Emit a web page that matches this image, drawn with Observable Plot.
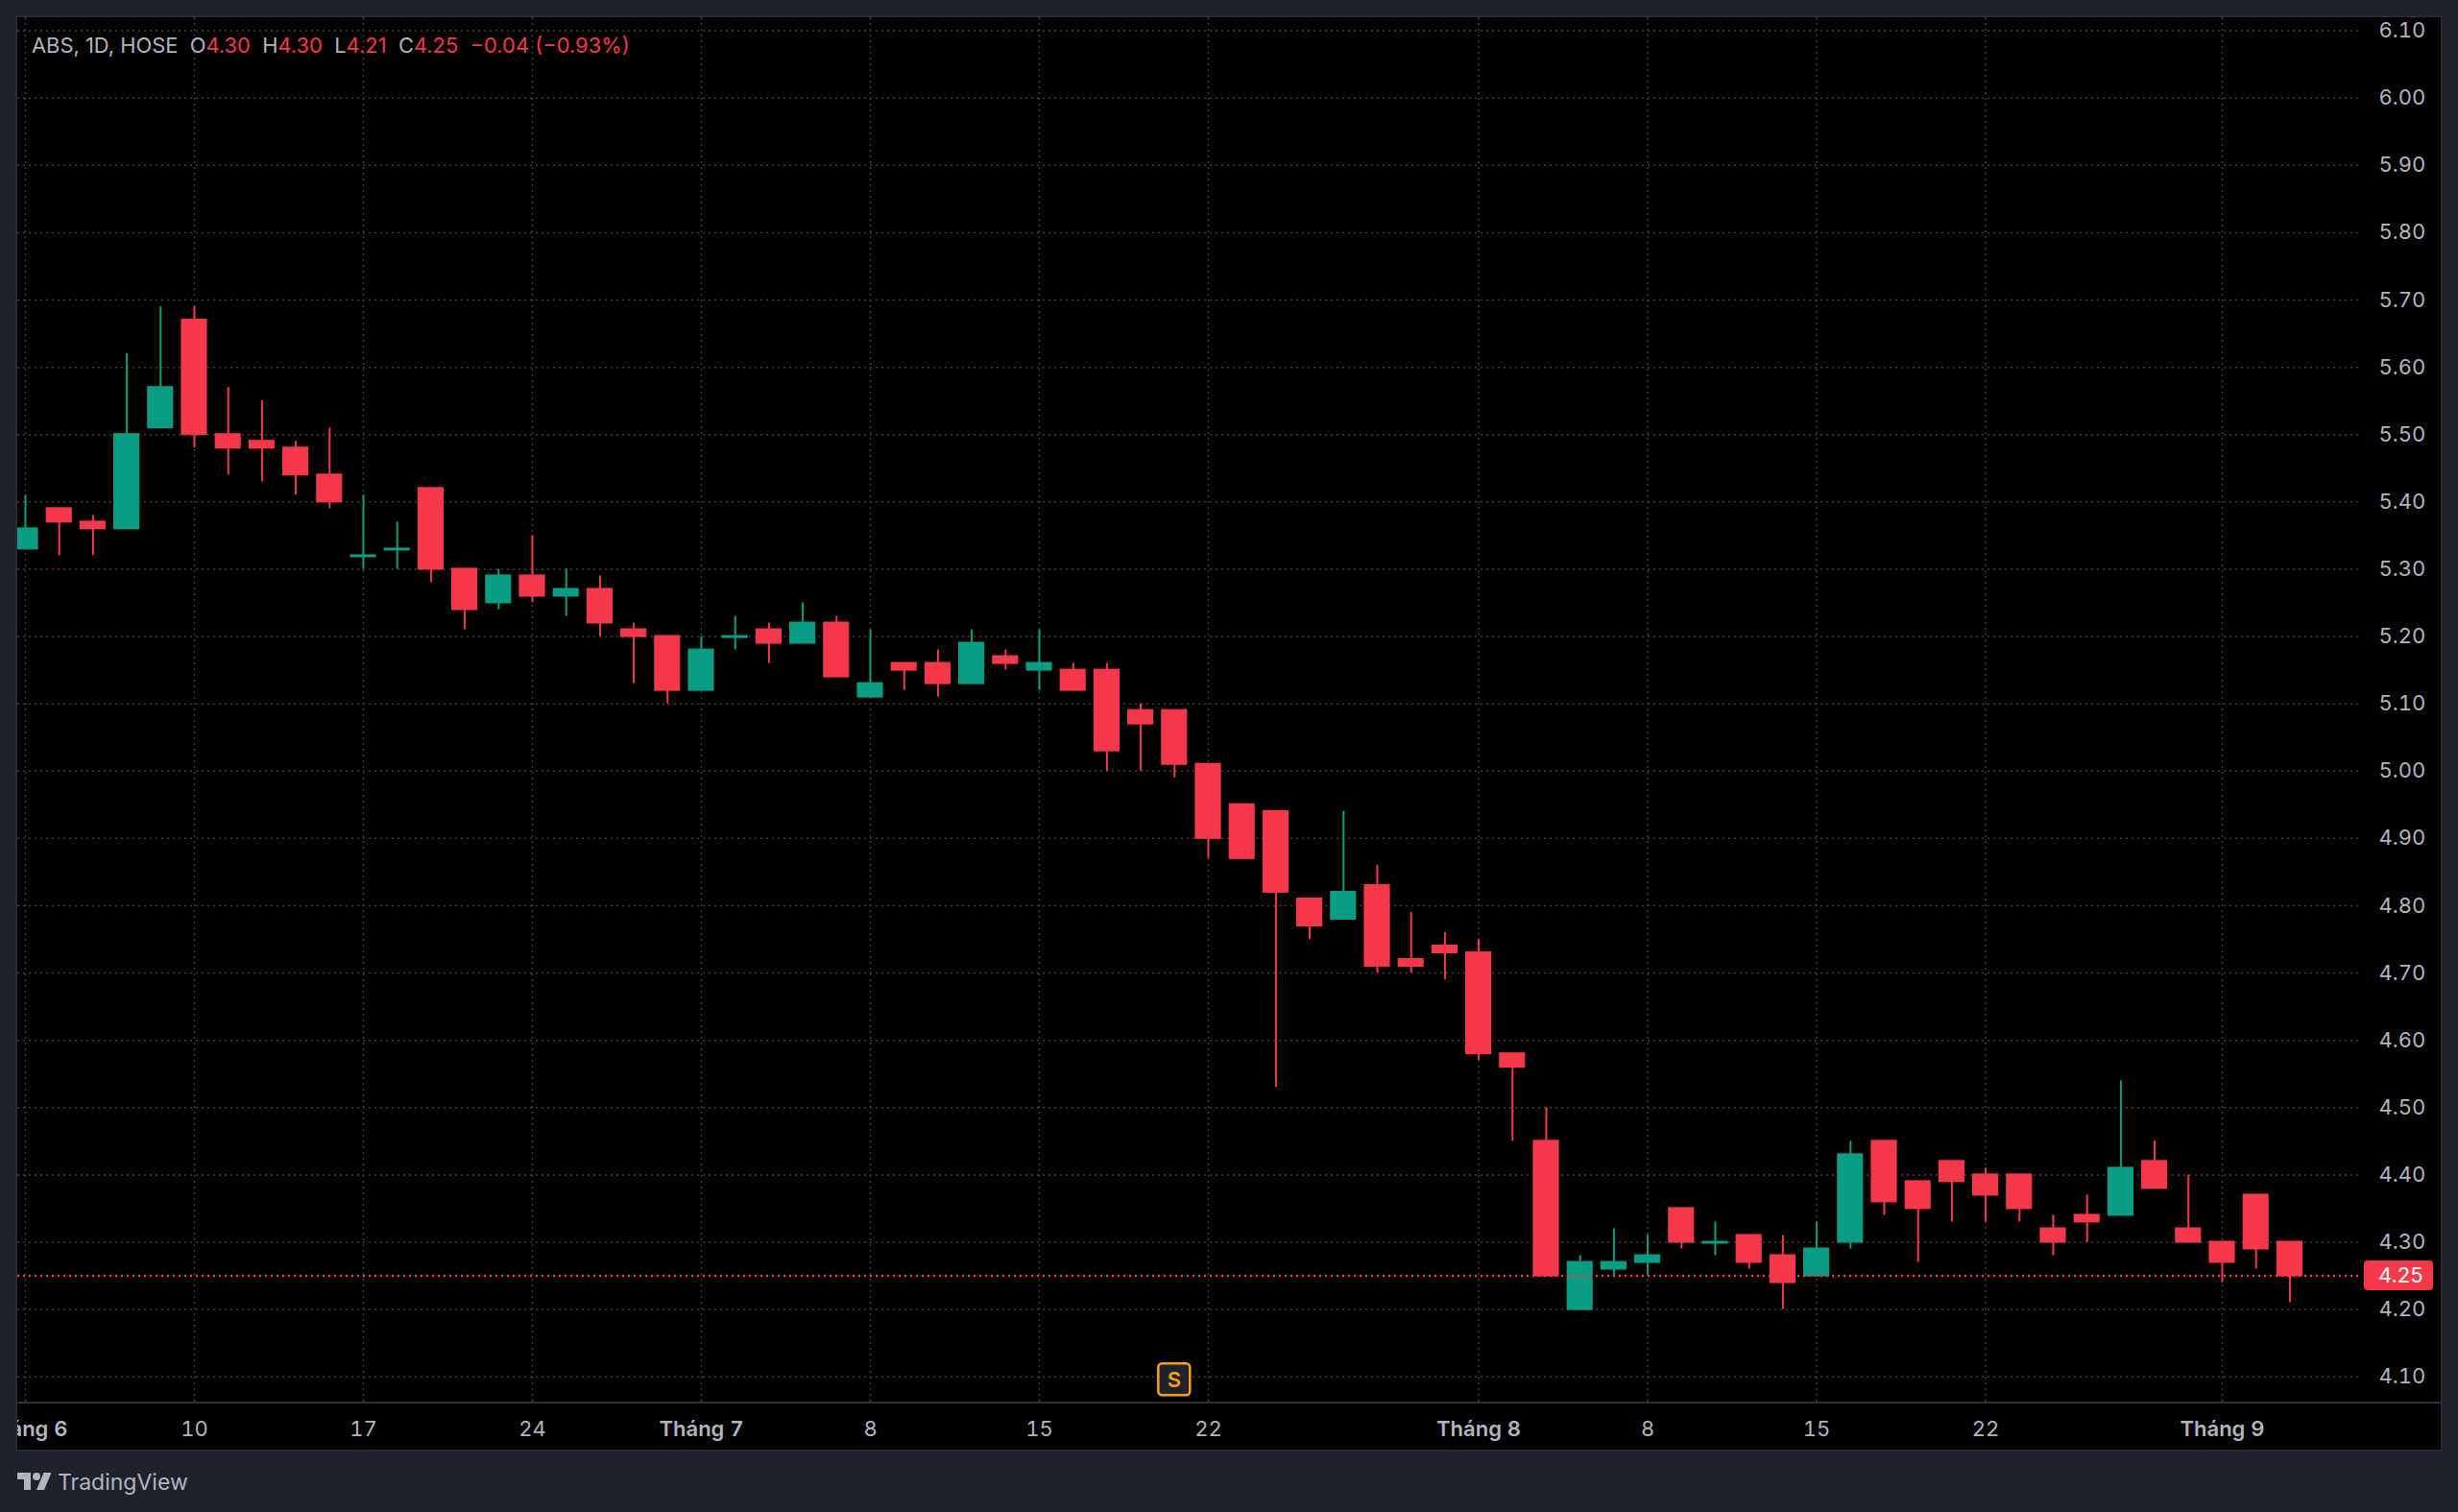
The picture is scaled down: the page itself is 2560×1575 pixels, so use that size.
<!DOCTYPE html>
<html><head><meta charset="utf-8">
<script src="https://cdn.jsdelivr.net/npm/d3@7"></script>
<script src="https://cdn.jsdelivr.net/npm/@observablehq/plot@0.6"></script>
<style>
html,body{margin:0;padding:0;background:#1e222d;width:2560px;height:1575px;overflow:hidden;font-family:Inter,sans-serif}
#pane{position:absolute;left:18px;top:18px;box-shadow:0 0 0 1.5px #2a2e39;background:#000}
#pane svg{display:block}
#legend{position:absolute;left:33px;top:34px;font:400 21.9px/26px Inter,sans-serif;color:#b2b5be;white-space:pre}
#legend b{font-weight:400;color:#f5384a}
#brand{position:absolute;left:18px;top:1530px;display:flex;align-items:center;color:#b2b5be;font:400 23px/28px Inter,sans-serif}
#brand svg{margin-right:6px;display:block}
</style></head><body>
<div id="pane"></div>
<div id="legend"></div>
<div id="brand"><svg width="36" height="28" viewBox="0 0 36 28" fill="#b2b5be"><path d="M14 22H7V11H0V4h14v18zM28 22h-8l7.5-18h8L28 22z"/><circle cx="20" cy="8" r="4"/></svg>TradingView</div>
<script>
const open_ = [5.33,5.39,5.37,5.36,5.51,5.67,5.50,5.49,5.48,5.44,5.32,5.33,5.42,5.30,5.25,5.29,5.26,5.27,5.21,5.20,5.12,5.20,5.21,5.19,5.22,5.11,5.16,5.16,5.13,5.17,5.15,5.15,5.15,5.09,5.09,5.01,4.95,4.94,4.81,4.78,4.83,4.72,4.74,4.73,4.58,4.45,4.20,4.26,4.27,4.35,4.30,4.31,4.28,4.25,4.30,4.45,4.39,4.42,4.40,4.40,4.32,4.34,4.34,4.42,4.32,4.30,4.37,4.30];
const high = [5.41,5.39,5.38,5.62,5.69,5.69,5.57,5.55,5.49,5.51,5.41,5.37,5.42,5.30,5.30,5.35,5.30,5.29,5.22,5.20,5.20,5.23,5.22,5.25,5.23,5.21,5.16,5.18,5.21,5.18,5.21,5.16,5.16,5.10,5.09,5.01,4.95,4.94,4.81,4.94,4.86,4.79,4.76,4.75,4.58,4.50,4.28,4.32,4.31,4.35,4.33,4.31,4.31,4.33,4.45,4.45,4.39,4.42,4.41,4.40,4.34,4.37,4.54,4.45,4.40,4.30,4.37,4.30];
const low = [5.33,5.32,5.32,5.36,5.51,5.48,5.44,5.43,5.41,5.39,5.30,5.30,5.28,5.21,5.24,5.25,5.23,5.20,5.13,5.10,5.12,5.18,5.16,5.19,5.14,5.11,5.12,5.11,5.13,5.15,5.12,5.12,5.00,5.00,4.99,4.87,4.87,4.53,4.75,4.78,4.70,4.70,4.69,4.57,4.45,4.25,4.20,4.25,4.25,4.29,4.28,4.26,4.20,4.25,4.29,4.34,4.27,4.33,4.33,4.33,4.28,4.30,4.34,4.38,4.30,4.24,4.26,4.21];
const close = [5.36,5.37,5.36,5.50,5.57,5.50,5.48,5.48,5.44,5.40,5.32,5.33,5.30,5.24,5.29,5.26,5.27,5.22,5.20,5.12,5.18,5.20,5.19,5.22,5.14,5.13,5.15,5.13,5.19,5.16,5.16,5.12,5.03,5.07,5.01,4.90,4.87,4.82,4.77,4.82,4.71,4.71,4.73,4.58,4.56,4.25,4.27,4.27,4.28,4.30,4.30,4.27,4.24,4.29,4.43,4.36,4.35,4.39,4.37,4.35,4.30,4.33,4.41,4.38,4.30,4.27,4.29,4.25];
const priceTicks = [4.1,4.2,4.3,4.4,4.5,4.6,4.7,4.8,4.9,5.0,5.1,5.2,5.3,5.4,5.5,5.6,5.7,5.8,5.9,6.0,6.1];
const dayTickBars = [5,10,15,25,30,35,48,53,58];
const dayTickLabels = ["10","17","24","8","15","22","8","15","22"];
const monthTickBars = [0,20,43,65];
const monthTickLabels = ["Tháng 6","Tháng 7","Tháng 8","Tháng 9"];
const splitBar = 34;
const splitPrice = 4.1;
const lastPrice = 4.25;
const legendParts = [["ABS, 1D, HOSE  O",0],["4.30",1],["  H",0],["4.30",1],["  L",0],["4.21",1],["  C",0],["4.25",1],["  −0.04 (−0.93%)",1]];

const UP = "#099e83", DOWN = "#f5384a", GRID = "#3d3f45", TXT = "#b2b5be";
const bars = open_.map((o,i)=>({i,o,h:high[i],l:low[i],c:close[i],up:close[i]>=o}));
const upBars = bars.filter(d=>d.up), downBars = bars.filter(d=>!d.up);
const dojiBars = bars.filter(d=>d.o===d.c);
const allX = [...dayTickBars,...monthTickBars];
const fmtDay = d=>dayTickLabels[dayTickBars.indexOf(d)];
const fmtMonth = d=>monthTickLabels[monthTickBars.indexOf(d)];
const HALF = 0.357;

const body = (data,color)=>Plot.rect(data.filter(d=>d.o!==d.c),{
  x1:d=>d.i-HALF,x2:d=>d.i+HALF,y1:d=>Math.min(d.o,d.c),y2:d=>Math.max(d.o,d.c),
  fill:color,stroke:color,strokeWidth:2
});

const plot = Plot.plot({
  width:2524,height:1492,
  marginLeft:0,marginTop:0,marginRight:82,marginBottom:50,
  style:{background:"#000",fontFamily:"Inter,sans-serif",overflow:"hidden"},
  x:{type:"linear",domain:[0,67],range:[8,2366.4],axis:null},
  y:{type:"linear",domain:[4.1,6.1],range:[1415.7,13.6],axis:null},
  marks:[
    Plot.ruleX(allX,{x:d=>d,stroke:GRID,strokeWidth:1.5,strokeDasharray:"2 4"}),
    Plot.ruleY(priceTicks,{y:d=>d,stroke:GRID,strokeWidth:1.5,strokeDasharray:"2 4"}),
    Plot.ruleX(upBars,{x:"i",y1:"l",y2:"h",stroke:UP,strokeWidth:2}),
    Plot.ruleX(downBars,{x:"i",y1:"l",y2:"h",stroke:DOWN,strokeWidth:2}),
    body(upBars,UP),
    body(downBars,DOWN),
    Plot.ruleY(dojiBars,{x1:d=>d.i-HALF-0.03,x2:d=>d.i+HALF+0.03,y:"c",stroke:UP,strokeWidth:3}),
    Plot.ruleY([lastPrice],{y:d=>d,stroke:DOWN,strokeWidth:2.5,strokeDasharray:"2 4"}),
    Plot.axisY(priceTicks,{anchor:"right",tickSize:0,tickPadding:17,tickFormat:d=>d.toFixed(2),fontSize:22,fill:TXT,textAnchor:"start",label:null}),
    (index,{y},values,dims)=>{
      const g=d3.create("svg:g");
      g.append("rect").attr("x",dims.width-dims.marginRight+2).attr("y",y(lastPrice)-15.5).attr("width",72).attr("height",31).attr("rx",4).attr("fill",DOWN);
      g.append("text").attr("x",dims.width-dims.marginRight+17).attr("y",y(lastPrice)).attr("dy","0.36em").attr("text-anchor","start").attr("fill","#fff").attr("font-size",22).text(lastPrice.toFixed(2));
      return g.node();
    },
    Plot.axisX(dayTickBars,{anchor:"bottom",tickSize:0,tickPadding:20,tickFormat:fmtDay,fontSize:22,fill:TXT,label:null}),
    Plot.axisX(monthTickBars,{anchor:"bottom",tickSize:0,tickPadding:20,tickFormat:fmtMonth,fontSize:22,fontWeight:600,fill:TXT,label:null}),
    (index,{x,y})=>{
      const g=d3.create("svg:g");
      const cx=x(splitBar), cy=y(splitPrice)+3;
      g.append("rect").attr("x",cx-16.5).attr("y",cy-16.5).attr("width",33).attr("height",33).attr("rx",4).attr("fill","#1e222d").attr("stroke","#ff9f0e").attr("stroke-width",2.5);
      g.append("text").attr("x",cx).attr("y",cy).attr("dy","0.36em").attr("text-anchor","middle").attr("fill","#ff9f0e").attr("font-size",22).attr("font-weight",600).text("S");
      return g.node();
    }
  ]
});
document.getElementById("pane").append(plot);
const sep=document.createElement("div");
sep.style.cssText="position:absolute;left:0;right:0;top:1442px;height:2px;background:#2a2e39";
document.getElementById("pane").append(sep);
const lg=document.getElementById("legend");
for(const [t,r] of legendParts){const e=document.createElement(r?"b":"span");e.textContent=t;lg.append(e);}
</script>
</body></html>
